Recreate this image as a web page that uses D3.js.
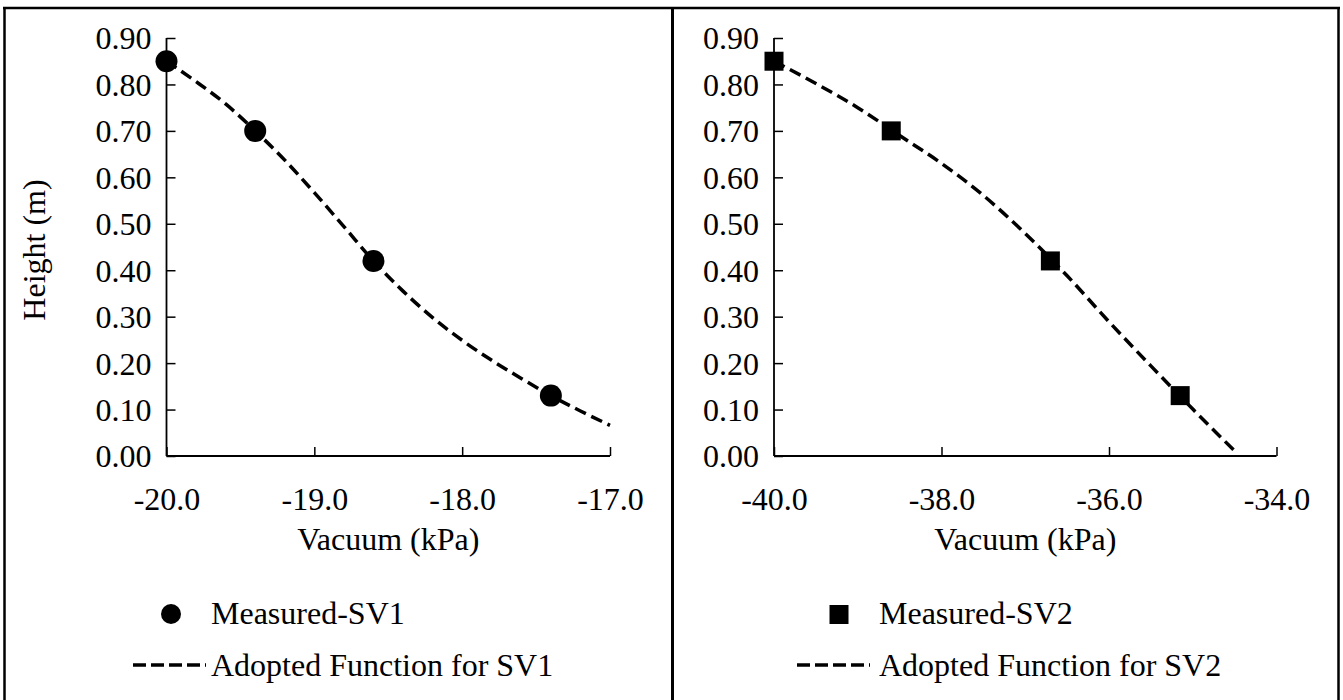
<!DOCTYPE html>
<html>
<head>
<meta charset="utf-8">
<script src="https://cdn.jsdelivr.net/npm/d3@7"></script>
<style>
  html, body { margin: 0; padding: 0; background: #fff; }
  svg { display: block; }
  svg text { font-family: "Liberation Serif", "Times New Roman", serif !important; fill: #000; }
</style>
</head>
<body>
<svg id="chart" width="1343" height="700"></svg>
<script>
// ---- data ----
const yTicks = [0.00, 0.10, 0.20, 0.30, 0.40, 0.50, 0.60, 0.70, 0.80, 0.90];

const sv1TicksX = [-20.0, -19.0, -18.0, -17.0];
const sv1MeasuredX = [-20.0, -19.4, -18.6, -17.4];
const sv1MeasuredY = [0.85, 0.70, 0.42, 0.13];
const sv1FuncX = [-20.0, -19.8, -19.6, -19.4, -19.2, -19.0, -18.8, -18.6, -18.4, -18.2, -18.0, -17.8, -17.6, -17.4, -17.2, -17.0];
const sv1FuncY = [0.850, 0.806, 0.758, 0.700, 0.637, 0.567, 0.494, 0.420, 0.355, 0.298, 0.249, 0.206, 0.167, 0.130, 0.097, 0.066];

const sv2TicksX = [-40.0, -38.0, -36.0, -34.0];
const sv2MeasuredX = [-40.0, -38.6, -36.7, -35.15];
const sv2MeasuredY = [0.85, 0.70, 0.42, 0.13];
const sv2FuncX = [-40.0, -39.5, -39.0, -38.5, -38.0, -37.5, -37.0, -36.5, -36.0, -35.5, -35.0, -34.5];
const sv2FuncY = [0.850, 0.802, 0.750, 0.690, 0.630, 0.561, 0.479, 0.388, 0.289, 0.194, 0.101, 0.011];

const xTitle = "Vacuum (kPa)";
const yTitle = "Height (m)";
const legendSV1 = ["Measured-SV1", "Adopted Function for SV1"];
const legendSV2 = ["Measured-SV2", "Adopted Function for SV2"];

// ---- drawing ----
const svg = d3.select("#chart");
const FONT = 32;
const DASH = "12,6";
const SERIF = "Liberation Serif, Times New Roman, serif";

// frame
const frame = svg.append("g").attr("stroke", "#000").attr("fill", "none");
frame.append("line").attr("x1", 3).attr("x2", 1340).attr("y1", 8).attr("y2", 8).attr("stroke-width", 2.5);
frame.append("line").attr("x1", 4.5).attr("x2", 4.5).attr("y1", 7).attr("y2", 700).attr("stroke-width", 2.5);
frame.append("line").attr("x1", 672.5).attr("x2", 672.5).attr("y1", 7).attr("y2", 700).attr("stroke-width", 3);
frame.append("line").attr("x1", 1338.5).attr("x2", 1338.5).attr("y1", 7).attr("y2", 700).attr("stroke-width", 2.5);

function panel(cfg) {
  const x = d3.scaleLinear().domain(cfg.xDomain).range([cfg.left, cfg.right]);
  const y = d3.scaleLinear().domain([0, 0.9]).range([456, 38]);
  const g = svg.append("g");

  // y axis (ticks inside)
  const yAxis = d3.axisRight(y).tickValues(yTicks).tickSize(9).tickFormat(d => d.toFixed(2));
  const ya = g.append("g").attr("transform", `translate(${cfg.left},0)`).call(yAxis)
    .attr("font-family", SERIF).attr("font-size", FONT);
  ya.select(".domain").remove();
  ya.selectAll(".tick line").attr("stroke", "#000").attr("stroke-width", 1.5);
  ya.selectAll(".tick text")
    .attr("x", -15).attr("dy", "0.34em").attr("text-anchor", "end");
  g.append("line").attr("x1", cfg.left).attr("x2", cfg.left).attr("y1", y(0.9)).attr("y2", y(0))
    .attr("stroke", "#000").attr("stroke-width", 1.8);

  // x axis (ticks inside)
  const xAxis = d3.axisTop(x).tickValues(cfg.xTicks).tickSize(9).tickFormat(d => d.toFixed(1));
  const xa = g.append("g").attr("transform", `translate(0,${y(0)})`).call(xAxis)
    .attr("font-family", SERIF).attr("font-size", FONT);
  xa.select(".domain").remove();
  xa.selectAll(".tick line").attr("stroke", "#000").attr("stroke-width", 1.5);
  xa.selectAll(".tick text")
    .attr("y", 54).attr("dy", 0).attr("text-anchor", "middle");
  g.append("line").attr("x1", cfg.left).attr("x2", cfg.right).attr("y1", y(0)).attr("y2", y(0))
    .attr("stroke", "#000").attr("stroke-width", 1.8);

  // axis titles
  g.append("text").attr("x", (cfg.left + cfg.right) / 2).attr("y", 550)
    .attr("text-anchor", "middle").attr("font-size", FONT).text(xTitle);
  if (cfg.yTitle) {
    g.append("text").attr("transform", `translate(45,${(y(0) + y(0.9)) / 2 + 3}) rotate(-90)`)
      .attr("text-anchor", "middle").attr("font-size", FONT).text(cfg.yTitle);
  }

  // function curve
  const line = d3.line().x(d => x(d[0])).y(d => y(d[1])).curve(d3.curveMonotoneX);
  g.append("path").datum(cfg.funcX.map((v, i) => [v, cfg.funcY[i]]))
    .attr("d", line).attr("fill", "none").attr("stroke", "#000")
    .attr("stroke-width", 3.5).attr("stroke-dasharray", DASH);

  // measured points
  const pts = cfg.mX.map((v, i) => [v, cfg.mY[i]]);
  if (cfg.marker === "circle") {
    g.selectAll("circle.pt").data(pts).join("circle").attr("class", "pt")
      .attr("cx", d => x(d[0])).attr("cy", d => y(d[1])).attr("r", 11).attr("fill", "#000");
  } else {
    g.selectAll("rect.pt").data(pts).join("rect").attr("class", "pt")
      .attr("x", d => x(d[0]) - 9.5).attr("y", d => y(d[1]) - 9.5)
      .attr("width", 19).attr("height", 19).attr("fill", "#000");
  }

  // legend
  const L = cfg.legend;
  if (cfg.marker === "circle") {
    g.append("circle").attr("cx", L.mx).attr("cy", 614).attr("r", 10).attr("fill", "#000");
  } else {
    g.append("rect").attr("x", L.mx - 9.5).attr("y", 605).attr("width", 19).attr("height", 19).attr("fill", "#000");
  }
  g.append("text").attr("x", L.tx).attr("y", 624).attr("font-size", FONT).text(cfg.legendText[0]);
  g.append("line").attr("x1", L.lx1).attr("x2", L.lx2).attr("y1", 665).attr("y2", 665)
    .attr("stroke", "#000").attr("stroke-width", 3.5).attr("stroke-dasharray", "13,5");
  g.append("text").attr("x", L.tx).attr("y", 676).attr("font-size", FONT).text(cfg.legendText[1]);
}

panel({
  xDomain: [-20, -17], left: 166.5, right: 610, xTicks: sv1TicksX,
  funcX: sv1FuncX, funcY: sv1FuncY, mX: sv1MeasuredX, mY: sv1MeasuredY,
  marker: "circle", yTitle: yTitle, legendText: legendSV1,
  legend: { mx: 171, tx: 211, lx1: 133, lx2: 206 }
});

panel({
  xDomain: [-40, -34], left: 774, right: 1276.5, xTicks: sv2TicksX,
  funcX: sv2FuncX, funcY: sv2FuncY, mX: sv2MeasuredX, mY: sv2MeasuredY,
  marker: "square", yTitle: null, legendText: legendSV2,
  legend: { mx: 839, tx: 879, lx1: 797, lx2: 870 }
});
</script>
</body>
</html>
